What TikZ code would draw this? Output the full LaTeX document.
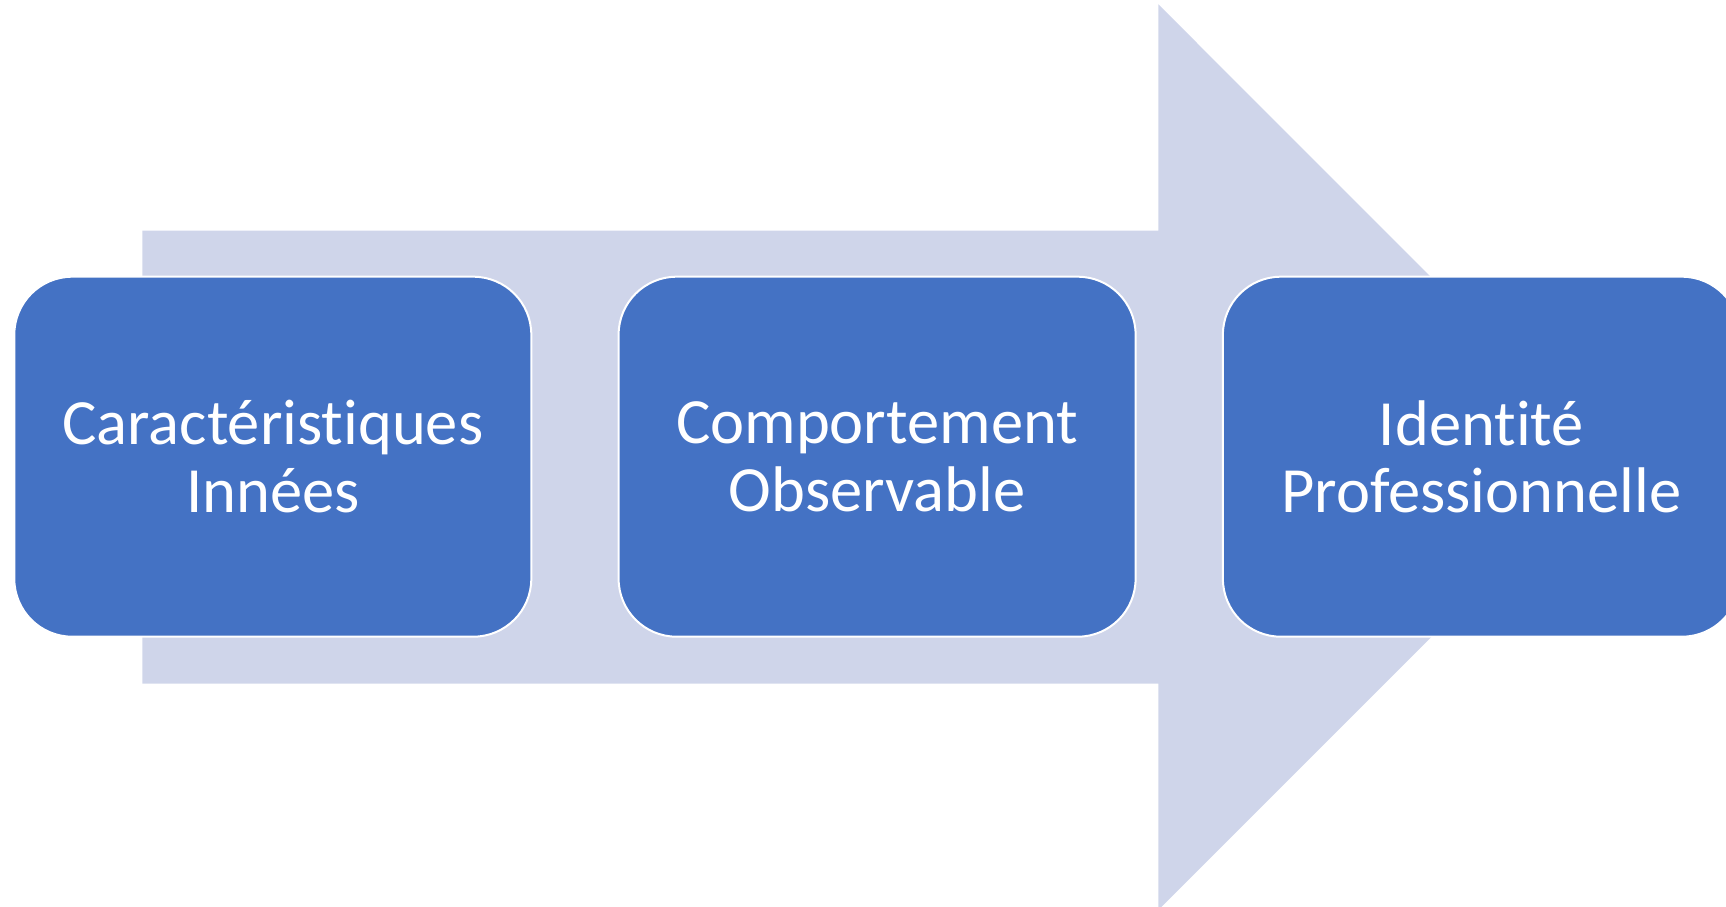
\documentclass[tikz,border=0pt]{standalone}
\usepackage{fontspec}
\setmainfont{Carlito}[RawFeature={-liga}]
\definecolor{boxblue}{RGB}{68,114,196}
\definecolor{arrowfill}{RGB}{207,213,234}
\begin{document}
\begin{tikzpicture}[x=1pt,y=-1pt,
  stage/.style={draw=white, line width=2pt, fill=boxblue, rounded corners=58pt,
    minimum width=517pt, minimum height=360pt, inner sep=0pt,
    text=white, align=center,
    font=\fontsize{64.5}{67.5}\selectfont}]
\useasboundingbox (0,0) rectangle (1726,907);
\fill[arrowfill] (142.3,230.7) -- (1158.3,230.7) -- (1158.3,4.3) -- (1611,457.2)
  -- (1158.3,910) -- (1158.3,683.6) -- (142.3,683.6) -- cycle;
\node[stage] (a) at (272.8,456.7) {Caractéristiques\\Innées};
\node[stage] (b) at (877.1,456.7) {Comportement\\Observable};
\node[stage] (c) at (1481.4,456.7) {Identité\\Professionnelle};
\end{tikzpicture}
\end{document}
